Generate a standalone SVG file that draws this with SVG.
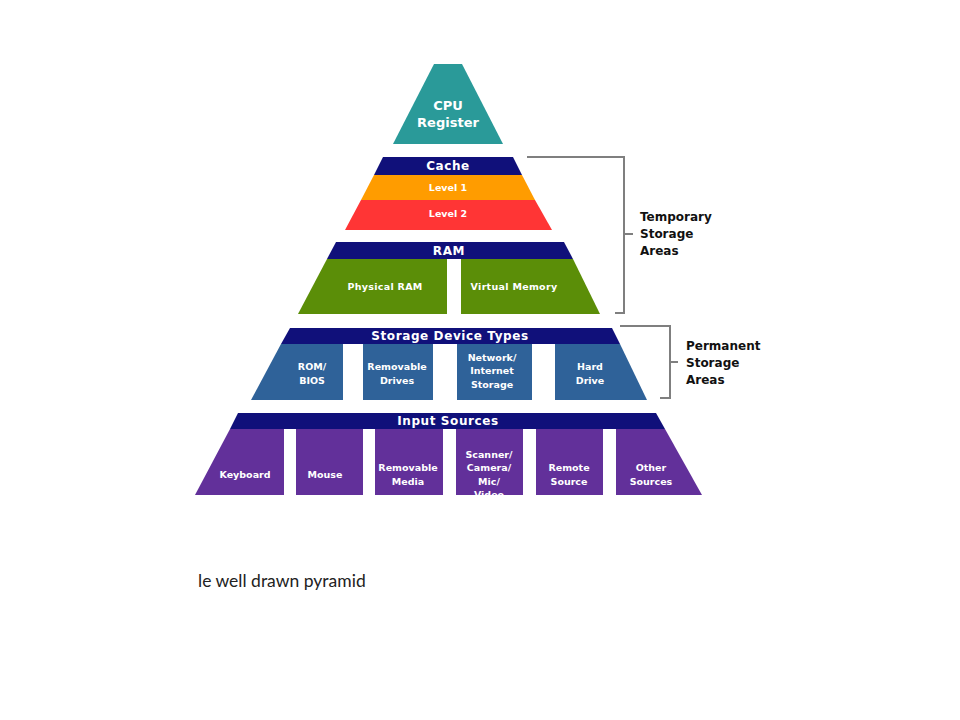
<svg xmlns="http://www.w3.org/2000/svg" width="960" height="720" viewBox="0 0 960 720">
<style>
.t{font-family:"DejaVu Sans",sans-serif;font-weight:bold;fill:#fff;text-anchor:middle;dominant-baseline:central}
.h{font-size:12px;letter-spacing:0.6px}
.s{font-size:9.5px}
.lab{font-family:"DejaVu Sans",sans-serif;font-weight:bold;fill:#111;font-size:12px;dominant-baseline:central}
.br{fill:none;stroke:#7f7f7f;stroke-width:2}
.navy{fill:#10107a}
</style>
<defs>
<clipPath id="pclip"><rect x="190" y="429" width="520" height="66"/></clipPath>
</defs>
<rect width="960" height="720" fill="#fff"/>

<g id="cpu">
<polygon points="434,64 462,64 503,144 393,144" fill="#2a9a99"/>
<text class="t" x="448" y="105" font-size="13">CPU</text>
<text class="t" x="448" y="122" font-size="13">Register</text>
</g>

<g id="cache">
<polygon class="navy" points="383,157 513,157 522,175 374,175"/>
<text class="t h" x="448" y="166">Cache</text>
</g>
<g id="level1">
<polygon points="374,175 522,175 535,200 361,200" fill="#ff9c00"/>
<text class="t s" x="448" y="187">Level 1</text>
</g>
<g id="level2">
<polygon points="361,200 535,200 552,230 345,230" fill="#ff3535"/>
<text class="t s" x="448" y="213">Level 2</text>
</g>

<g id="ram">
<polygon class="navy" points="336,242 564,242 573,259 327,259"/>
<text class="t h" x="449" y="251">RAM</text>
</g>
<g id="physical-ram">
<polygon points="327,259 447,259 447,314 298,314" fill="#5b8e08"/>
<text class="t s" x="385" y="286" letter-spacing="0.3">Physical RAM</text>
</g>
<g id="virtual-memory">
<polygon points="461,259 573,259 600,314 461,314" fill="#5b8e08"/>
<text class="t s" x="514" y="286" letter-spacing="0.3">Virtual Memory</text>
</g>

<g id="storage">
<polygon class="navy" points="290,328 612,328 620,344 281,344"/>
<text class="t h" x="450" y="336">Storage Device Types</text>
</g>
<g id="rom-bios">
<polygon points="281,344 343,344 343,400 251,400" fill="#2f6299"/>
<text class="t s" x="312" y="366">ROM/</text>
<text class="t s" x="312" y="380">BIOS</text>
</g>
<g id="removable-drives">
<rect x="363" y="344" width="70" height="56" fill="#2f6299"/>
<text class="t s" x="397" y="366">Removable</text>
<text class="t s" x="397" y="380">Drives</text>
</g>
<g id="network-storage">
<rect x="457" y="344" width="75" height="56" fill="#2f6299"/>
<text class="t s" x="492" y="357">Network/</text>
<text class="t s" x="492" y="370">Internet</text>
<text class="t s" x="492" y="384">Storage</text>
</g>
<g id="hard-drive">
<polygon points="555,344 620,344 647,400 555,400" fill="#2f6299"/>
<text class="t s" x="590" y="366">Hard</text>
<text class="t s" x="590" y="380">Drive</text>
</g>

<g id="input">
<polygon class="navy" points="238,413 656,413 665,429 230,429"/>
<text class="t h" x="448" y="421">Input Sources</text>
</g>
<g id="keyboard">
<polygon points="230,429 284,429 284,495 195,495" fill="#62309a"/>
<text class="t s" x="245" y="474">Keyboard</text>
</g>
<g id="mouse">
<rect x="296" y="429" width="67" height="66" fill="#62309a"/>
<text class="t s" x="325" y="474">Mouse</text>
</g>
<g id="removable-media">
<rect x="375" y="429" width="68" height="66" fill="#62309a"/>
<text class="t s" x="408" y="467">Removable</text>
<text class="t s" x="408" y="481">Media</text>
</g>
<g id="scanner">
<rect x="456" y="429" width="67" height="66" fill="#62309a"/>
<g clip-path="url(#pclip)">
<text class="t s" x="489" y="454">Scanner/</text>
<text class="t s" x="489" y="467">Camera/</text>
<text class="t s" x="489" y="481">Mic/</text>
<text class="t s" x="489" y="494">Video</text>
</g>
</g>
<g id="remote-source">
<rect x="536" y="429" width="67" height="66" fill="#62309a"/>
<text class="t s" x="569" y="467">Remote</text>
<text class="t s" x="569" y="481">Source</text>
</g>
<g id="other-sources">
<polygon points="616,429 665,429 702,495 616,495" fill="#62309a"/>
<text class="t s" x="651" y="467">Other</text>
<text class="t s" x="651" y="481">Sources</text>
</g>

<g id="connectors">
<polyline class="br" points="527,157 624,157 624,313 615,313"/>
<line class="br" x1="624" y1="234" x2="633" y2="234"/>
<polyline class="br" points="620,326 670,326 670,398 660,398"/>
<line class="br" x1="670" y1="362" x2="678" y2="362"/>
</g>

<g id="temporary-label">
<text class="lab" x="640" y="217">Temporary</text>
<text class="lab" x="640" y="234">Storage</text>
<text class="lab" x="640" y="251">Areas</text>
</g>
<g id="permanent-label">
<text class="lab" x="686" y="346">Permanent</text>
<text class="lab" x="686" y="363">Storage</text>
<text class="lab" x="686" y="380">Areas</text>
</g>

<text x="198" y="580" font-family="Lato, 'Open Sans', sans-serif" font-size="17.5" fill="#222" dominant-baseline="central">le well drawn pyramid</text>
</svg>
